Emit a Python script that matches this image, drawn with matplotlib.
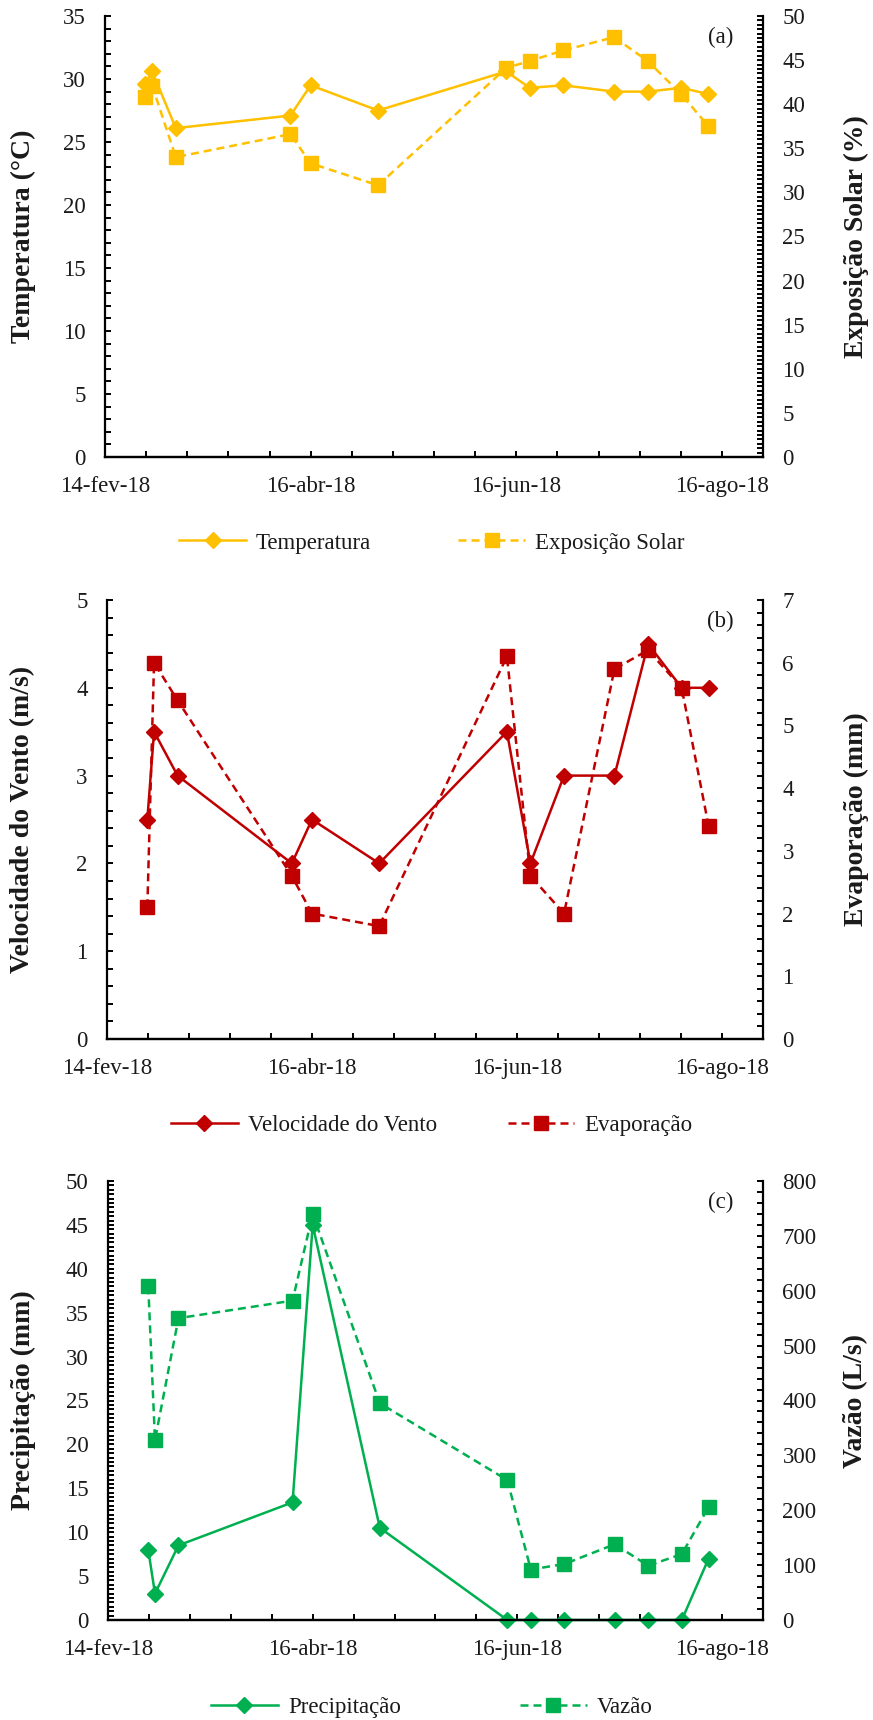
import matplotlib
matplotlib.use('Agg')
import matplotlib.pyplot as plt
import matplotlib.dates as mdates
import numpy as np
from matplotlib.ticker import FixedLocator, MultipleLocator
from matplotlib.lines import Line2D

# ---------------- data ----------------
dates = ['2018-02-26', '2018-02-28', '2018-03-07', '2018-04-10', '2018-04-16',
         '2018-05-06', '2018-06-13', '2018-06-20', '2018-06-30', '2018-07-15',
         '2018-07-25', '2018-08-04', '2018-08-12']

temperatura = [29.6, 30.6, 26.1, 27.1, 29.5, 27.5, 30.6, 29.3, 29.5, 29.0, 29.0, 29.3, 28.8]
exposicao_solar = [40.8, 42.1, 34.0, 36.6, 33.3, 30.8, 44.1, 44.9, 46.1, 47.6, 44.9, 41.1, 37.5]

velocidade_vento = [2.5, 3.5, 3.0, 2.0, 2.5, 2.0, 3.5, 2.0, 3.0, 3.0, 4.5, 4.0, 4.0]
evaporacao = [2.1, 6.0, 5.4, 2.6, 2.0, 1.8, 6.1, 2.6, 2.0, 5.9, 6.2, 5.6, 3.4]

precipitacao = [8.0, 3.0, 8.5, 13.4, 45.0, 10.5, 0.0, 0.0, 0.0, 0.0, 0.0, 0.0, 7.0]
vazao = [608, 328, 550, 582, 740, 395, 255, 92, 102, 138, 99, 120, 206]

x_tick_dates = ['2018-02-14', '2018-04-16', '2018-06-16', '2018-08-16']
x_tick_labels = ['14-fev-18', '16-abr-18', '16-jun-18', '16-ago-18']

panel_letters = ['(a)', '(b)', '(c)']
left_labels = ['Temperatura (°C)', 'Velocidade do Vento (m/s)', 'Precipitação (mm)']
right_labels = ['Exposição Solar (%)', 'Evaporação (mm)', 'Vazão (L/s)']
left_names = ['Temperatura', 'Velocidade do Vento', 'Precipitação']
right_names = ['Exposição Solar', 'Evaporação', 'Vazão']

# ---------------- style ----------------
plt.rcParams['font.family'] = ['Liberation Serif', 'DejaVu Serif']
TXT = '#1a1a1a'
colors = ['#FFC000', '#C00000', '#00B050']

W, H = 873, 1720
fig = plt.figure(figsize=(W / 100, H / 100), dpi=100)
fig.patch.set_facecolor('white')

# axes boxes in pixels: (left, top, right, bottom)
boxes = [(105, 16, 763, 457), (107, 600, 763, 1039), (108, 1181, 763, 1620)]
left_lims = [(0, 35, 5, 1), (0, 5, 1, 0.2), (0, 50, 5, 0.5)]
right_lims = [(0, 50, 5, 0.5), (0, 7, 1, 0.2), (0, 800, 100, 20)]
legend_y = [543, 1125, 1707]
legend_colsp = [3.8, 3.1, 5.2]

left_data = [temperatura, velocidade_vento, precipitacao]
right_data = [exposicao_solar, evaporacao, vazao]

x = mdates.datestr2num(dates)
x0 = mdates.datestr2num('2018-02-14')
x_major = mdates.datestr2num(x_tick_dates)
x_end = x0 + 16 * 12.2
x_minor = x0 + 12.2 * np.arange(0, 17)

FS = 16.5
LFS = 20
LW = 1.8
DASH = (0, (3.2, 2.0))
DMS = 8.0
SMS = 10.5

for i in range(3):
    l, t, r, b = boxes[i]
    ax = fig.add_axes([l / W, 1 - b / H, (r - l) / W, (b - t) / H])
    ax2 = ax.twinx()
    c = colors[i]

    ax.plot(x, left_data[i], color=c, lw=LW, marker='D', ms=DMS, mec=c, mfc=c,
            label=left_names[i], zorder=3, clip_on=False)
    ax2.plot(x, right_data[i], color=c, lw=LW, ls=DASH, marker='s', ms=SMS,
             mec=c, mfc=c, label=right_names[i], zorder=3, clip_on=False)

    ax.set_xlim(x0, x_end)
    lo, hi, maj, mnr = left_lims[i]
    ax.set_ylim(lo, hi)
    ax.yaxis.set_major_locator(MultipleLocator(maj))
    ax.yaxis.set_minor_locator(MultipleLocator(mnr))
    lo2, hi2, maj2, mnr2 = right_lims[i]
    ax2.set_ylim(lo2, hi2)
    ax2.yaxis.set_major_locator(MultipleLocator(maj2))
    ax2.yaxis.set_minor_locator(MultipleLocator(mnr2))

    ax.xaxis.set_major_locator(FixedLocator(x_major))
    ax.set_xticklabels(x_tick_labels)
    ax.xaxis.set_minor_locator(FixedLocator(x_minor))

    for a in (ax, ax2):
        a.spines['top'].set_visible(False)
        for s in ['left', 'right', 'bottom']:
            a.spines[s].set_linewidth(1.6)
            a.spines[s].set_color('black')
        a.tick_params(which='both', direction='in', length=4.3, width=1.4,
                      color='black', labelsize=FS, labelcolor=TXT, pad=14)
        a.set_facecolor('none')
    ax2.spines['left'].set_visible(False)
    ax.spines['right'].set_visible(False)

    ax.set_ylabel(left_labels[i], fontsize=LFS, fontweight='bold', color=TXT, va='center')
    ax.yaxis.set_label_coords((23 - l) / (r - l), 0.5)
    ax2.set_ylabel(right_labels[i], fontsize=LFS, fontweight='bold', color=TXT,
                   va='center', rotation=90)
    ax2.yaxis.set_label_coords((856 - l) / (r - l), 0.5)

    ax.text(0.935, 0.952, panel_letters[i], transform=ax.transAxes, fontsize=FS,
            color=TXT, ha='center', va='center')

    handles = [
        Line2D([], [], color=c, lw=LW, marker='D', ms=DMS, mec=c, mfc=c),
        Line2D([], [], color=c, lw=LW, ls=DASH, marker='s', ms=SMS, mec=c, mfc=c),
    ]
    fig.legend(handles, [left_names[i], right_names[i]], loc='center',
               bbox_to_anchor=(432 / W, 1 - legend_y[i] / H), ncol=2, frameon=False,
               fontsize=FS, handlelength=2.9, handletextpad=0.45,
               columnspacing=legend_colsp[i], labelcolor=TXT)

fig.savefig('out.png', dpi=100, facecolor='white')
